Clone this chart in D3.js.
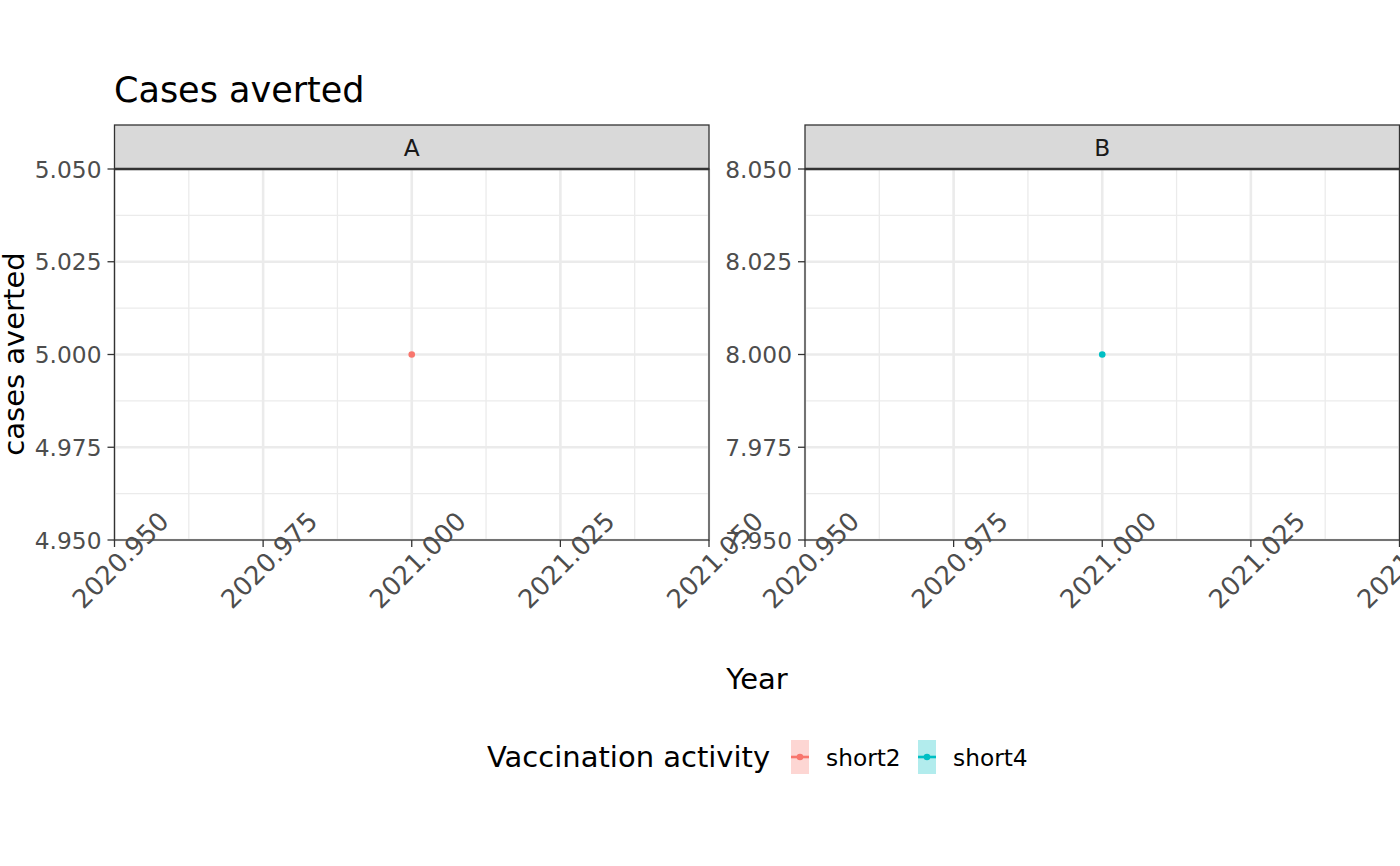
<!DOCTYPE html>
<html>
<head>
<meta charset="utf-8">
<script src="https://cdn.jsdelivr.net/npm/d3@7"></script>
<style>
  html, body { margin: 0; padding: 0; background: #fff; }
  svg { display: block; font-family: "DejaVu Sans", sans-serif; }
</style>
</head>
<body>
<svg id="chart" width="1400" height="866"></svg>
<script>
// ---- data ----
const panels = ["A", "B"];
const activities = ["short2", "short4"];
const colors = ["#F8766D", "#00BFC4"];
const years = [2021, 2021];
const casesAverted = [5, 8];
const xDomain = [2020.95, 2021.05];
const xTicks = [2020.95, 2020.975, 2021.0, 2021.025, 2021.05];
const xMinor = [2020.9625, 2020.9875, 2021.0125, 2021.0375];
const yDomains = [[4.95, 5.05], [7.95, 8.05]];
const yTicks = [[4.95, 4.975, 5.0, 5.025, 5.05], [7.95, 7.975, 8.0, 8.025, 8.05]];
const yMinor = [[4.9625, 4.9875, 5.0125, 5.0375], [7.9625, 7.9875, 8.0125, 8.0375]];

// ---- layout ----
const svg = d3.select("#chart");
const panelLefts = [114.5, 805];
const panelW = 594.5;
const stripTop = 125, plotTop = 169, plotBottom = 540;
const fmt = d3.format(".3f");
const small = 23.3, xlabSize = 25.8, medium = 29, large = 35;

svg.append("text").attr("x", 114).attr("y", 102)
  .attr("font-size", large).attr("fill", "#000").text("Cases averted");

panels.forEach((p, i) => {
  const x0 = panelLefts[i];
  const x = d3.scaleLinear().domain(xDomain).range([x0, x0 + panelW]);
  const y = d3.scaleLinear().domain(yDomains[i]).range([plotBottom, plotTop]);
  const g = svg.append("g");

  // minor grid
  g.selectAll(".vminor").data(xMinor).join("line")
    .attr("x1", d => x(d)).attr("x2", d => x(d)).attr("y1", plotTop).attr("y2", plotBottom)
    .attr("stroke", "#EBEBEB").attr("stroke-width", 1.3);
  g.selectAll(".hminor").data(yMinor[i]).join("line")
    .attr("y1", d => y(d)).attr("y2", d => y(d)).attr("x1", x0).attr("x2", x0 + panelW)
    .attr("stroke", "#EBEBEB").attr("stroke-width", 1.3);
  // major grid
  g.selectAll(".vmajor").data(xTicks).join("line")
    .attr("x1", d => x(d)).attr("x2", d => x(d)).attr("y1", plotTop).attr("y2", plotBottom)
    .attr("stroke", "#EBEBEB").attr("stroke-width", 2.6);
  g.selectAll(".hmajor").data(yTicks[i]).join("line")
    .attr("y1", d => y(d)).attr("y2", d => y(d)).attr("x1", x0).attr("x2", x0 + panelW)
    .attr("stroke", "#EBEBEB").attr("stroke-width", 2.6);

  // point
  g.append("circle").attr("cx", x(years[i])).attr("cy", y(casesAverted[i]))
    .attr("r", 3.3).attr("fill", colors[i]);

  // panel border
  g.append("rect").attr("x", x0).attr("y", plotTop).attr("width", panelW)
    .attr("height", plotBottom - plotTop).attr("fill", "none")
    .attr("stroke", "#333333").attr("stroke-width", 1.3);

  // strip
  g.append("rect").attr("x", x0).attr("y", stripTop).attr("width", panelW)
    .attr("height", plotTop - stripTop).attr("fill", "#D9D9D9")
    .attr("stroke", "#333333").attr("stroke-width", 1.3);
  g.append("line").attr("x1", x0).attr("x2", x0 + panelW).attr("y1", plotTop).attr("y2", plotTop)
    .attr("stroke", "#333333").attr("stroke-width", 2.6);
  g.append("text").attr("x", x0 + panelW / 2).attr("y", (stripTop + plotTop) / 2)
    .attr("dominant-baseline", "central").attr("text-anchor", "middle")
    .attr("font-size", small).attr("fill", "#1A1A1A").text(p);

  // y axis
  g.selectAll(".ytick").data(yTicks[i]).join("line")
    .attr("x1", x0 - 7).attr("x2", x0).attr("y1", d => y(d)).attr("y2", d => y(d))
    .attr("stroke", "#333333").attr("stroke-width", 1.3);
  g.selectAll(".ylab").data(yTicks[i]).join("text")
    .attr("x", x0 - 13).attr("y", d => y(d)).attr("text-anchor", "end")
    .attr("dominant-baseline", "central").attr("font-size", small).attr("fill", "#4D4D4D")
    .text(d => fmt(d));

  // x axis
  g.selectAll(".xtick").data(xTicks).join("line")
    .attr("x1", d => x(d)).attr("x2", d => x(d)).attr("y1", plotBottom).attr("y2", plotBottom + 7)
    .attr("stroke", "#333333").attr("stroke-width", 1.3);
  g.selectAll(".xlab").data(xTicks).join("text")
    .attr("transform", d => `translate(${x(d) + 6},${plotBottom + 20}) rotate(-45)`)
    .attr("text-anchor", "middle").attr("dominant-baseline", "central")
    .attr("font-size", xlabSize).attr("fill", "#4D4D4D").text(d => fmt(d));
});

// axis titles
svg.append("text").attr("x", 757).attr("y", 689).attr("text-anchor", "middle")
  .attr("font-size", medium).attr("fill", "#000").text("Year");
svg.append("text").attr("transform", "translate(24,354) rotate(-90)")
  .attr("text-anchor", "middle").attr("font-size", medium).attr("fill", "#000").text("cases averted");

// legend
const legY = 757;
svg.append("text").attr("x", 487).attr("y", legY).attr("dominant-baseline", "central")
  .attr("font-size", medium).attr("fill", "#000").text("Vaccination activity");
const keyX = [791, 918];
const labX = [826, 953];
activities.forEach((a, i) => {
  const kg = svg.append("g");
  kg.append("rect").attr("x", keyX[i]).attr("y", 740).attr("width", 18).attr("height", 34)
    .attr("fill", colors[i]).attr("fill-opacity", 0.3);
  kg.append("line").attr("x1", keyX[i]).attr("x2", keyX[i] + 18).attr("y1", legY).attr("y2", legY)
    .attr("stroke", colors[i]).attr("stroke-width", 2.6);
  kg.append("circle").attr("cx", keyX[i] + 9).attr("cy", legY).attr("r", 3.3).attr("fill", colors[i]);
  kg.append("text").attr("x", labX[i]).attr("y", legY).attr("dominant-baseline", "central")
    .attr("font-size", small).attr("fill", "#000").text(a);
});
</script>
</body>
</html>
